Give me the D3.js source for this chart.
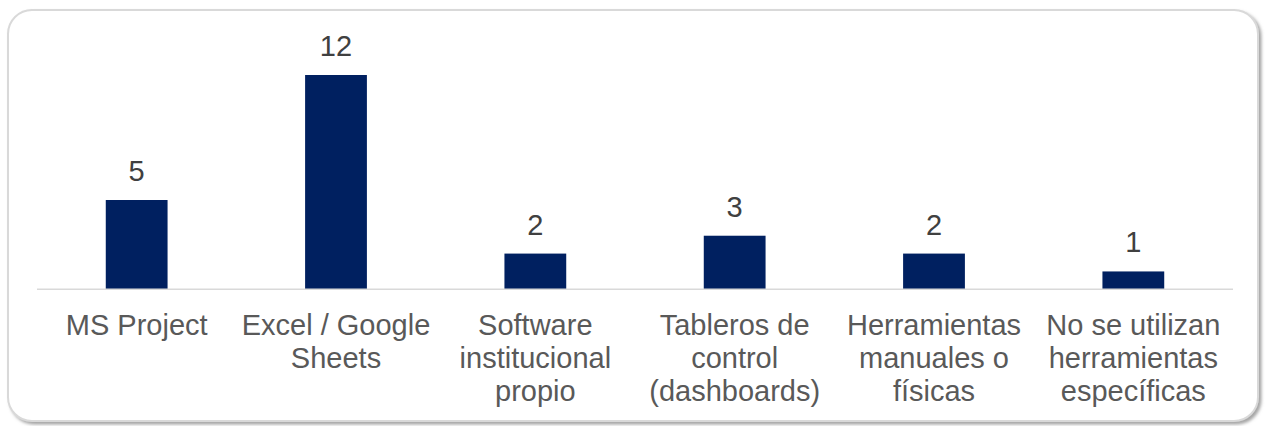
<!DOCTYPE html>
<html>
<head>
<meta charset="utf-8">
<script src="https://cdn.jsdelivr.net/npm/d3@7"></script>
<style>
  html, body { margin: 0; padding: 0; background: #fff; }
  svg { display: block; }
</style>
</head>
<body>
<div class="bar-chart"></div>
<script>
// Data

const categories = [
  'MS Project',
  'Excel / Google Sheets',
  'Software institucional propio',
  'Tableros de control (dashboards)',
  'Herramientas manuales o físicas',
  'No se utilizan herramientas específicas'
]
const values = [5, 12, 2, 3, 2, 1]

// Bar chart

const drawBarChart = () => {
  const width = 1265
  const height = 426
  const plot = {left: 37, right: 1233, base: 289.3, top: 75}

  const svg = d3.select('.bar-chart')
    .append('svg')
      .attr('width', width)
      .attr('height', height)
      .style('font-family', '"Liberation Sans", Arial, sans-serif')

  const defs = svg.append('defs')
  defs.append('filter')
      .attr('id', 'shadow')
      .attr('x', '-5%').attr('y', '-5%')
      .attr('width', '110%').attr('height', '110%')
    .append('feDropShadow')
      .attr('dx', 2.5)
      .attr('dy', 2.5)
      .attr('stdDeviation', 1.5)
      .attr('flood-color', '#7f7f7f')
      .attr('flood-opacity', 0.7)

  // frame
  svg.append('rect')
      .attr('x', 8)
      .attr('y', 10)
      .attr('width', 1250)
      .attr('height', 411)
      .attr('rx', 24)
      .attr('ry', 24)
      .attr('fill', '#fff')
      .attr('stroke', '#d9d9d9')
      .attr('stroke-width', 2)
      .attr('filter', 'url(#shadow)')

  const x = d3.scaleBand()
    .domain(categories)
    .range([plot.left, plot.right])
    .padding(0)
  const y = d3.scaleLinear()
    .domain([0, d3.max(values)])
    .range([plot.base, plot.top])

  const barWidth = x.bandwidth() * 0.31

  svg.append('g')
    .selectAll('rect')
    .data(values)
    .enter().append('rect')
      .attr('x', (d, i) => x(categories[i]) + (x.bandwidth() - barWidth) / 2)
      .attr('width', barWidth)
      .attr('y', (d) => y(d))
      .attr('height', (d) => y(0) - y(d))
      .attr('fill', '#002060')

  // baseline
  svg.append('line')
      .attr('x1', plot.left)
      .attr('x2', plot.right)
      .attr('y1', y(0))
      .attr('y2', y(0))
      .attr('stroke', '#d9d9d9')
      .attr('stroke-width', 1.5)

  // value labels
  svg.append('g')
    .selectAll('text')
    .data(values)
    .enter().append('text')
      .attr('x', (d, i) => x(categories[i]) + x.bandwidth() / 2)
      .attr('y', (d) => y(d) - 19)
      .attr('text-anchor', 'middle')
      .attr('font-size', 29)
      .attr('fill', '#404040')
      .text((d) => d)

  // category labels, wrapped
  const maxWidth = 194
  const labels = svg.append('g')
    .selectAll('text')
    .data(categories)
    .enter().append('text')
      .attr('text-anchor', 'middle')
      .attr('font-size', 29)
      .attr('fill', '#595959')
      .attr('x', (d) => x(d) + x.bandwidth() / 2)
      .attr('y', 335)

  labels.each(function (d) {
    const text = d3.select(this)
    const cx = x(d) + x.bandwidth() / 2
    const words = d.split(' ')
    let line = []
    let tspan = text.append('tspan').attr('x', cx).attr('dy', 0)
    words.forEach((w) => {
      line.push(w)
      tspan.text(line.join(' '))
      if (tspan.node().getComputedTextLength() > maxWidth && line.length > 1) {
        line.pop()
        tspan.text(line.join(' '))
        line = [w]
        tspan = text.append('tspan').attr('x', cx).attr('dy', 33).text(w)
      }
    })
  })
}

drawBarChart()
</script>
</body>
</html>
